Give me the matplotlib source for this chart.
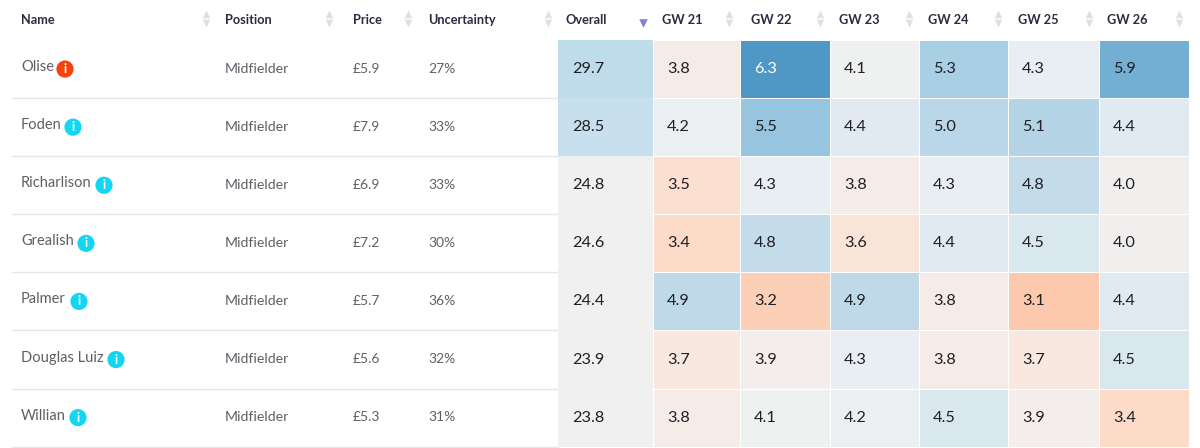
import matplotlib
matplotlib.use('Agg')
import matplotlib.pyplot as plt
from matplotlib.colors import LinearSegmentedColormap, Normalize
from matplotlib.patches import Circle
import numpy as np

names = ['Olise', 'Foden', 'Richarlison', 'Grealish', 'Palmer', 'Douglas Luiz', 'Willian']
positions = ['Midfielder'] * 7
prices = ['£5.9', '£7.9', '£6.9', '£7.2', '£5.7', '£5.6', '£5.3']
uncertainty = ['27%', '33%', '33%', '30%', '36%', '32%', '31%']
overall = [29.7, 28.5, 24.8, 24.6, 24.4, 23.9, 23.8]
gw_labels = ['GW 21', 'GW 22', 'GW 23', 'GW 24', 'GW 25', 'GW 26']
gw_values = [
    [3.8, 6.3, 4.1, 5.3, 4.3, 5.9],
    [4.2, 5.5, 4.4, 5.0, 5.1, 4.4],
    [3.5, 4.3, 3.8, 4.3, 4.8, 4.0],
    [3.4, 4.8, 3.6, 4.4, 4.5, 4.0],
    [4.9, 3.2, 4.9, 3.8, 3.1, 4.4],
    [3.7, 3.9, 4.3, 3.8, 3.7, 4.5],
    [3.8, 4.1, 4.2, 4.5, 3.9, 3.4],
]
warned = ['Olise']

# layout in pixels
W, H = 1200, 448
col_edges = [558, 653, 740, 830, 919, 1008, 1099, 1189]
row_top = 40
row_h = 58.1
badge_x = [65, 73, 104, 86, 79, 116, 78]
header_x = [21, 225, 353, 428, 566, 662, 751, 839, 928, 1018, 1107]
arrow_x = [206, 329, 408, 548, None, 729, 820, 909, 998, 1089, 1179]

plt.rcParams['font.family'] = ['Lato', 'DejaVu Sans']

fig = plt.figure(figsize=(12, 4.48), dpi=100)
ax = fig.add_axes([0, 0, 1, 1])

cmap = LinearSegmentedColormap.from_list('heat', [
    (0.0, '#fcc9ae'), (0.094, '#fcdcc9'), (0.1875, '#f8e8e0'), (0.219, '#f5ece8'),
    (0.297, '#f0f0f0'), (0.375, '#e8eef2'), (0.53, '#c5dcea'), (0.69, '#a9cfe4'),
    (0.875, '#74afd3'), (1.0, '#4f97c4')])
gw_norm = Normalize(3.1, 6.3)
overall_cmap = LinearSegmentedColormap.from_list('overall', ['#f0f0f0', '#f0f0f0', '#cfe3ef', '#bfdcea'])
overall_norm = Normalize(23.5, 29.7)

row_edges = [row_top + row_h * i for i in range(len(names) + 1)]
ax.pcolormesh(col_edges[:2], row_edges, np.array(overall).reshape(-1, 1),
              cmap=overall_cmap, norm=overall_norm, edgecolors='none', zorder=1)
ax.pcolormesh(col_edges[1:], row_edges, np.array(gw_values), cmap=cmap, norm=gw_norm,
              edgecolors='white', linewidth=0.4, zorder=1)
ax.set_xlim(0, W)
ax.set_ylim(H, 0)
ax.axis('off')

head_color = '#2b2b45'
body_color = '#5f5f66'
headers = ['Name', 'Position', 'Price', 'Uncertainty', 'Overall'] + gw_labels
for x, label in zip(header_x, headers):
    ax.text(x, 19.5, label, fontsize=9.2, fontweight='bold', color=head_color, va='center', ha='left')
for x in arrow_x:
    if x is None:
        continue
    ax.scatter([x], [14.5], marker='^', s=30, color='#e0e0e0', linewidths=0, zorder=3)
    ax.scatter([x], [23.5], marker='v', s=30, color='#e0e0e0', linewidths=0, zorder=3)
ax.scatter([643], [23], marker='v', s=38, color='#8080d8', linewidths=0, zorder=3)

for i, name in enumerate(names):
    y = row_top + row_h * (i + 0.5)
    ax.text(21, y - 2, name, fontsize=10.5, color=body_color, va='center')
    ax.text(225, y - 0.5, positions[i], fontsize=10.2, color=body_color, va='center')
    ax.text(353, y - 0.5, prices[i], fontsize=10, color=body_color, va='center')
    ax.text(428, y - 0.5, uncertainty[i], fontsize=10, color=body_color, va='center')
    ax.add_patch(Circle((badge_x[i], y), 8.6, color='#f4420c' if name in warned else '#13d6f2', zorder=4, lw=0))
    ax.text(badge_x[i], y, 'i', fontsize=9, fontweight='bold', color='white', ha='center', va='center', zorder=5)
    ax.plot([12, 558], [row_edges[i + 1]] * 2, color='#e6e6e6', lw=1, zorder=0)
    ax.text(572, y, f'{overall[i]:.1f}', fontsize=11.7, color='#1f1f24', va='center')
    for j, v in enumerate(gw_values[i]):
        ax.text(col_edges[j + 1] + 14, y, f'{v:.1f}', fontsize=11.7,
                color='white' if v >= 6.2 else '#1f1f24', va='center')

fig.savefig('out.png', dpi=100, facecolor='white')
